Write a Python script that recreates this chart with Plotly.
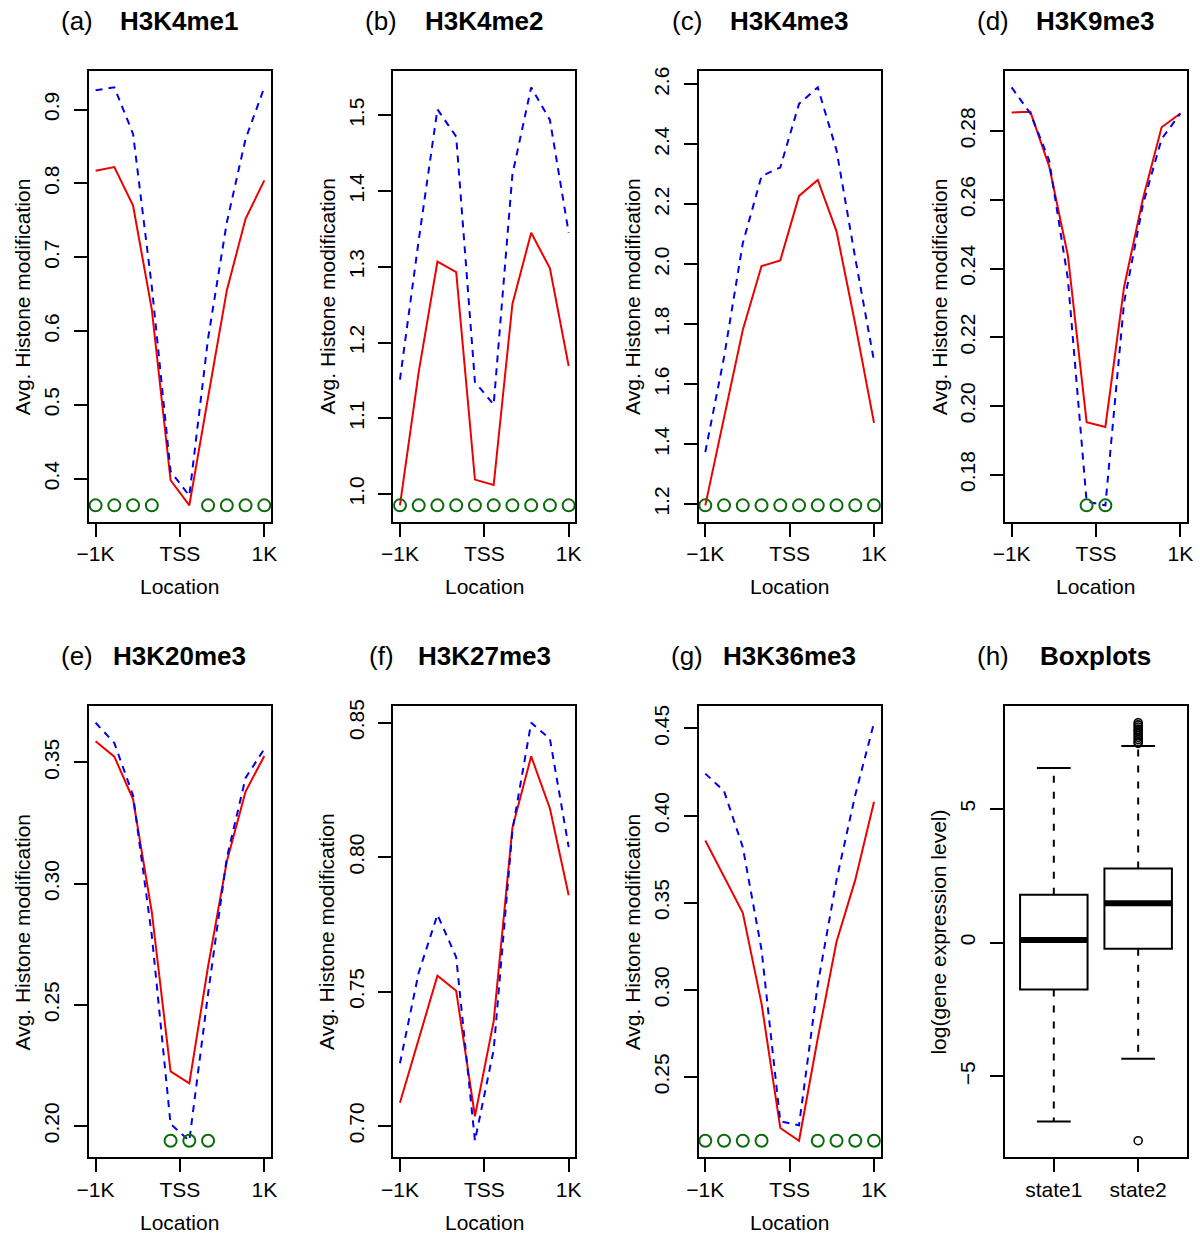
import plotly.graph_objects as go

FONT = "Liberation Sans, Arial, Helvetica, sans-serif"

# ---------------- data ----------------
positions = [1, 2, 3, 4, 5, 6, 7, 8, 9, 10]
loc_tickvals = [1, 5.5, 10]
loc_ticktext = ["\u22121K", "TSS", "1K"]

panel_letters = ["(a)", "(b)", "(c)", "(d)", "(e)", "(f)", "(g)", "(h)"]
panel_names = ["H3K4me1", "H3K4me2", "H3K4me3", "H3K9me3",
               "H3K20me3", "H3K27me3", "H3K36me3", "Boxplots"]

red_a = [0.817, 0.822, 0.770, 0.629, 0.398, 0.364, 0.510, 0.655, 0.752, 0.804]
blue_a = [0.926, 0.930, 0.867, 0.660, 0.410, 0.377, 0.590, 0.747, 0.860, 0.930]
red_b = [0.985, 1.161, 1.307, 1.293, 1.019, 1.012, 1.251, 1.345, 1.298, 1.169]
blue_b = [1.151, 1.335, 1.508, 1.472, 1.148, 1.118, 1.422, 1.537, 1.494, 1.345]
red_c = [1.196, 1.490, 1.781, 1.994, 2.013, 2.228, 2.281, 2.110, 1.800, 1.471]
blue_c = [1.374, 1.690, 2.070, 2.294, 2.323, 2.535, 2.590, 2.380, 2.020, 1.677]
red_d = [0.2854, 0.2856, 0.2698, 0.2438, 0.1953, 0.1939, 0.2347, 0.2602, 0.2811, 0.2851]
blue_d = [0.2927, 0.2851, 0.2715, 0.2370, 0.1722, 0.1711, 0.2302, 0.2585, 0.2777, 0.2851]
red_e = [0.3588, 0.3524, 0.3348, 0.2882, 0.2225, 0.2176, 0.2658, 0.3091, 0.3380, 0.3527]
blue_e = [0.3664, 0.3580, 0.3364, 0.2786, 0.2008, 0.1939, 0.2545, 0.3107, 0.3436, 0.3556]
red_f = [0.7086, 0.7326, 0.7559, 0.7503, 0.7036, 0.7390, 0.8110, 0.8375, 0.8181, 0.7858]
blue_f = [0.7233, 0.7570, 0.7786, 0.7628, 0.6945, 0.7283, 0.8100, 0.8500, 0.8440, 0.8037]
red_g = [0.3857, 0.3653, 0.3442, 0.2921, 0.2207, 0.2134, 0.2722, 0.3276, 0.3631, 0.4079]
blue_g = [0.4241, 0.4141, 0.3819, 0.3230, 0.2245, 0.2223, 0.3032, 0.3631, 0.4119, 0.4533]

# positions flagged with green circles
sig_a = [1, 2, 3, 4, 7, 8, 9, 10]
sig_b = [1, 2, 3, 4, 5, 6, 7, 8, 9, 10]
sig_c = [1, 2, 3, 4, 5, 6, 7, 8, 9, 10]
sig_d = [5, 6]
sig_e = [5, 6, 7]
sig_f = []
sig_g = [1, 2, 3, 4, 7, 8, 9, 10]

ytick_a = [0.4, 0.5, 0.6, 0.7, 0.8, 0.9]
ylab_a = ["0.4", "0.5", "0.6", "0.7", "0.8", "0.9"]
ytick_b = [1.0, 1.1, 1.2, 1.3, 1.4, 1.5]
ylab_b = ["1.0", "1.1", "1.2", "1.3", "1.4", "1.5"]
ytick_c = [1.2, 1.4, 1.6, 1.8, 2.0, 2.2, 2.4, 2.6]
ylab_c = ["1.2", "1.4", "1.6", "1.8", "2.0", "2.2", "2.4", "2.6"]
ytick_d = [0.18, 0.20, 0.22, 0.24, 0.26, 0.28]
ylab_d = ["0.18", "0.20", "0.22", "0.24", "0.26", "0.28"]
ytick_e = [0.20, 0.25, 0.30, 0.35]
ylab_e = ["0.20", "0.25", "0.30", "0.35"]
ytick_f = [0.70, 0.75, 0.80, 0.85]
ylab_f = ["0.70", "0.75", "0.80", "0.85"]
ytick_g = [0.25, 0.30, 0.35, 0.40, 0.45]
ylab_g = ["0.25", "0.30", "0.35", "0.40", "0.45"]

# boxplot (h)
box_states = ["state1", "state2"]
box_pos = [1, 2]
box_lower = [-6.68, -4.34]
box_q1 = [-1.75, -0.23]
box_median = [0.10, 1.47]
box_q3 = [1.79, 2.77]
box_upper = [6.52, 7.34]
out_state2 = [8.21, 8.13, 8.05, 7.97, 7.90, 7.82, 7.74, 7.66, 7.58, 7.50, 7.44, -7.40]
ytick_h = [-5, 0, 5]
ylab_h = ["\u22125", "0", "5"]

# ---------------- layout geometry ----------------
W, H = 1200, 1235
col_left = [78, 387, 697, 1008]
box_w = 185
row_top = [64, 703]
box_h = 454

RED = "#EE0000"
BLUE = "#0000EE"
GREEN = "#0B6B0B"

fig = go.Figure()
annotations = []

line_panels = [
    (red_a, blue_a, sig_a, ytick_a, ylab_a),
    (red_b, blue_b, sig_b, ytick_b, ylab_b),
    (red_c, blue_c, sig_c, ytick_c, ylab_c),
    (red_d, blue_d, sig_d, ytick_d, ylab_d),
    (red_e, blue_e, sig_e, ytick_e, ylab_e),
    (red_f, blue_f, sig_f, ytick_f, ylab_f),
    (red_g, blue_g, sig_g, ytick_g, ylab_g),
]

axis_common = dict(
    showline=True, mirror=True, linecolor="black", linewidth=2,
    showgrid=False, zeroline=False,
    ticks="outside", ticklen=13, tickwidth=2, tickcolor="black",
    tickfont=dict(family=FONT, size=21, color="black"),
    fixedrange=True,
)


def domains(i):
    r, c = divmod(i, 4)
    xd = [col_left[c] / W, (col_left[c] + box_w) / W]
    yd = [1 - (row_top[r] + box_h) / H, 1 - row_top[r] / H]
    return r, c, xd, yd


def ext_range(lo, hi):
    d = (hi - lo) * 0.04
    return [lo - d, hi + d]


for i in range(8):
    r, c, xd, yd = domains(i)
    xa = "x" if i == 0 else f"x{i+1}"
    ya = "y" if i == 0 else f"y{i+1}"
    xkey = "xaxis" if i == 0 else f"xaxis{i+1}"
    ykey = "yaxis" if i == 0 else f"yaxis{i+1}"

    if i < 7:
        red, blue, sig, ytv, ytt = line_panels[i]
        lo = min(red + blue)
        hi = max(red + blue)
        fig.add_trace(go.Scatter(x=positions, y=red, mode="lines",
                                 line=dict(color=RED, width=2),
                                 xaxis=xa, yaxis=ya, showlegend=False))
        fig.add_trace(go.Scatter(x=positions, y=blue, mode="lines",
                                 line=dict(color=BLUE, width=2, dash="7px,6px"),
                                 xaxis=xa, yaxis=ya, showlegend=False))
        if sig:
            fig.add_trace(go.Scatter(x=sig, y=[lo] * len(sig), mode="markers",
                                     marker=dict(symbol="circle-open", size=12,
                                                 color=GREEN, line=dict(width=2, color=GREEN)),
                                     xaxis=xa, yaxis=ya, showlegend=False))
        fig.layout[xkey] = dict(axis_common, domain=xd, anchor=ya,
                                range=[0.64, 10.36], tickmode="array",
                                tickvals=loc_tickvals, ticktext=loc_ticktext,
                                ticklabelstandoff=-1)
        fig.layout[ykey] = dict(axis_common, domain=yd, anchor=xa,
                                range=ext_range(lo, hi), tickmode="array",
                                tickvals=ytv, ticktext=ytt, tickangle=-90,
                                ticklabelstandoff=6)
        ytitle = "Avg. Histone modification"
        annotations.append(dict(text="Location", xref="paper", yref="paper",
                                x=(col_left[c] + box_w / 2) / W,
                                y=1 - (row_top[r] + 519) / H,
                                showarrow=False, xanchor="center", yanchor="middle",
                                font=dict(family=FONT, size=21, color="black")))
    else:
        lo = min(box_lower + out_state2)
        hi = max(box_upper + out_state2)
        for k in range(2):
            p = box_pos[k]
            fig.add_trace(go.Box(x=[p], q1=[box_q1[k]], median=[box_median[k]],
                                 q3=[box_q3[k]], lowerfence=[box_q1[k]],
                                 upperfence=[box_q3[k]], width=0.8, whiskerwidth=0,
                                 fillcolor="white", line=dict(color="black", width=2),
                                 boxpoints=False, hoverinfo="skip",
                                 xaxis=xa, yaxis=ya, showlegend=False))
            # whiskers (dashed)
            fig.add_trace(go.Scatter(x=[p, p, None, p, p],
                                     y=[box_q3[k], box_upper[k], None, box_q1[k], box_lower[k]],
                                     mode="lines", line=dict(color="black", width=2, dash="7px,9px"),
                                     xaxis=xa, yaxis=ya, showlegend=False))
            # staples
            fig.add_trace(go.Scatter(x=[p - 0.2, p + 0.2, None, p - 0.2, p + 0.2],
                                     y=[box_upper[k], box_upper[k], None, box_lower[k], box_lower[k]],
                                     mode="lines", line=dict(color="black", width=2),
                                     xaxis=xa, yaxis=ya, showlegend=False))
            # thick median
            fig.add_trace(go.Scatter(x=[p - 0.4, p + 0.4],
                                     y=[box_median[k], box_median[k]],
                                     mode="lines", line=dict(color="black", width=6),
                                     xaxis=xa, yaxis=ya, showlegend=False))
        fig.add_trace(go.Scatter(x=[box_pos[1]] * len(out_state2), y=out_state2,
                                 mode="markers",
                                 marker=dict(symbol="circle-open", size=8, color="black",
                                             line=dict(width=1.6, color="black")),
                                 xaxis=xa, yaxis=ya, showlegend=False))
        fig.layout[xkey] = dict(axis_common, domain=xd, anchor=ya,
                                range=[0.42, 2.58], tickmode="array",
                                tickvals=box_pos, ticktext=box_states,
                                ticklabelstandoff=-1)
        fig.layout[ykey] = dict(axis_common, domain=yd, anchor=xa,
                                range=ext_range(lo, hi), tickmode="array",
                                tickvals=ytick_h, ticktext=ylab_h, tickangle=-90,
                                ticklabelstandoff=6)
        ytitle = "log(gene expression level)"

    # y title
    annotations.append(dict(text=ytitle, xref="paper", yref="paper",
                            x=(col_left[c] - 67) / W,
                            y=1 - (row_top[r] + box_h / 2) / H,
                            textangle=-90, showarrow=False,
                            xanchor="center", yanchor="middle",
                            font=dict(family=FONT, size=21, color="black")))
    # panel letter
    annotations.append(dict(text=panel_letters[i], xref="paper", yref="paper",
                            x=(col_left[c] - 12) / W,
                            y=1 - (row_top[r] - 50) / H,
                            showarrow=False, xanchor="center", yanchor="middle",
                            font=dict(family=FONT, size=26, color="black")))
    # main title (bold)
    annotations.append(dict(text="<b>" + panel_names[i] + "</b>", xref="paper", yref="paper",
                            x=(col_left[c] + box_w / 2) / W,
                            y=1 - (row_top[r] - 50) / H,
                            showarrow=False, xanchor="center", yanchor="middle",
                            font=dict(family=FONT, size=26, color="black")))

fig.update_layout(
    width=W, height=H,
    margin=dict(l=0, r=0, t=0, b=0),
    paper_bgcolor="white", plot_bgcolor="white",
    annotations=annotations,
    showlegend=False,
)

fig.write_html("out.html", config={"displayModeBar": False},
               post_script="document.body.style.margin='0';")
